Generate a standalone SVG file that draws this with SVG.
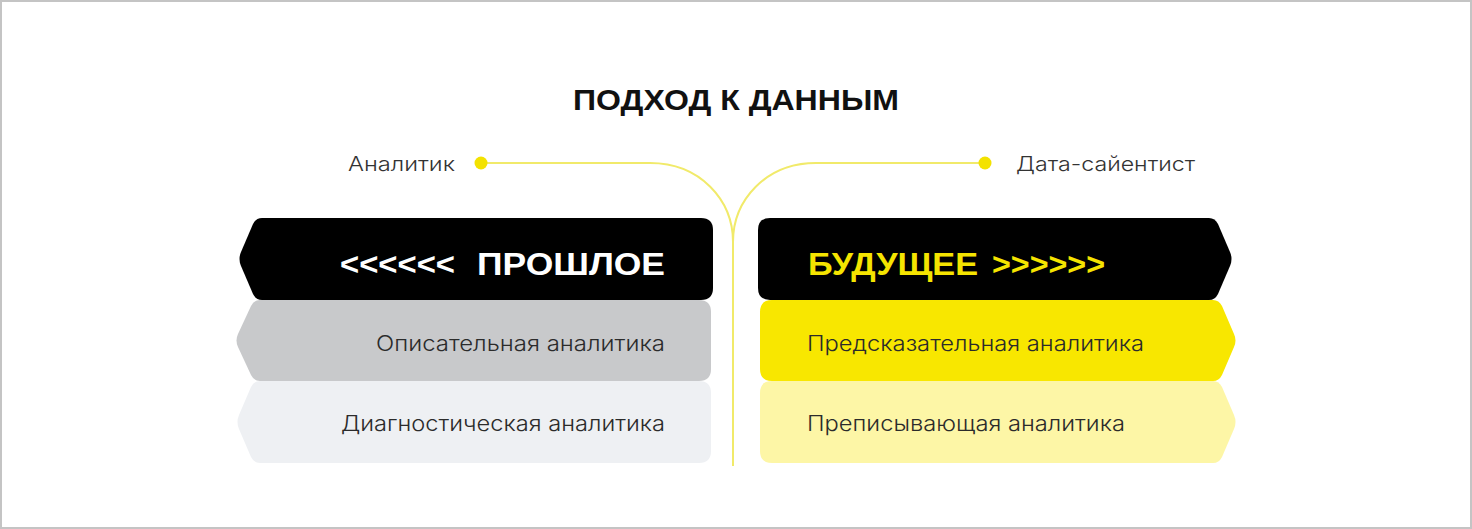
<svg xmlns="http://www.w3.org/2000/svg" width="1472" height="529" viewBox="0 0 1472 529">
<style>
.title{font-family:"Liberation Sans","Noto Sans",sans-serif;font-weight:bold;font-size:30px;fill:#111}
.head{font-family:"Liberation Sans","Noto Sans",sans-serif;font-weight:bold;font-size:32px}
.item{font-family:"Inter","Noto Sans","Liberation Sans",sans-serif;font-weight:300;font-size:21px;fill:#2b2b2b}
.role{font-family:"Inter","Noto Sans","Liberation Sans",sans-serif;font-weight:300;font-size:20px;fill:#333}
.conn{fill:none;stroke:#f1ea6a;stroke-width:2}
.dot{fill:#f3e200}
</style>
<rect x="1" y="1" width="1470" height="527" fill="#fff" stroke="#c4c4c4" stroke-width="2"/>
<text class="title" x="736" y="110" text-anchor="middle" textLength="326" lengthAdjust="spacingAndGlyphs">ПОДХОД К ДАННЫМ</text>
<g id="connectors">
<path class="conn" d="M 481 163 H 650 C 700 163 733 200 733 242 V 466"/>
<path class="conn" d="M 985 163 H 816 C 766 163 733 200 733 242"/>
</g>
<g id="analyst">
<circle class="dot" cx="481" cy="163" r="6.5"/>
<text class="role" x="455" y="171" text-anchor="end" textLength="107" lengthAdjust="spacingAndGlyphs">Аналитик</text>
</g>
<g id="datascientist">
<circle class="dot" cx="985" cy="163" r="6.5"/>
<text class="role" x="1016" y="171" textLength="179" lengthAdjust="spacingAndGlyphs">Дата-сайентист</text>
</g>
<g id="diagnostic">
<path fill="#eef0f3" d="M 260 381 H 699 Q 711 381 711 393 V 451 Q 711 463 699 463 H 260 Q 254 463 251 457 L 239 429 Q 236 422 239 415 L 251 387 Q 254 381 260 381 Z"/>
<text class="item" x="665" y="431" text-anchor="end" textLength="324" lengthAdjust="spacingAndGlyphs">Диагностическая аналитика</text>
</g>
<g id="descriptive">
<path fill="#c8c9cb" d="M 260 300 H 699 Q 711 300 711 312 V 369 Q 711 381 699 381 H 260 Q 254 381 251 375 L 238 347 Q 235 340.5 238 334 L 251 306 Q 254 300 260 300 Z"/>
<text class="item" x="665" y="351" text-anchor="end" textLength="289" lengthAdjust="spacingAndGlyphs">Описательная аналитика</text>
</g>
<g id="past">
<path fill="#000" d="M 262 218 H 701 Q 713 218 713 230 V 288 Q 713 300 701 300 H 262 Q 256 300 253 294 L 241 266 Q 238 259 241 252 L 253 224 Q 256 218 262 218 Z"/>
<text class="head" x="340" y="275" fill="#fff" textLength="115" lengthAdjust="spacingAndGlyphs">&lt;&lt;&lt;&lt;&lt;&lt;</text>
<text class="head" x="477" y="275" fill="#fff" textLength="188" lengthAdjust="spacingAndGlyphs">ПРОШЛОЕ</text>
</g>
<g id="prescriptive">
<path fill="#fdf6a6" d="M 772 381 H 1213 Q 1219 381 1222 387 L 1234 415 Q 1237 422 1234 429 L 1222 457 Q 1219 463 1213 463 H 772 Q 760 463 760 451 V 393 Q 760 381 772 381 Z"/>
<text class="item" x="807" y="431" textLength="318" lengthAdjust="spacingAndGlyphs">Преписывающая аналитика</text>
</g>
<g id="predictive">
<path fill="#f8e700" d="M 772 300 H 1213 Q 1219 300 1222 306 L 1234 334 Q 1237 340.5 1234 347 L 1222 375 Q 1219 381 1213 381 H 772 Q 760 381 760 369 V 312 Q 760 300 772 300 Z"/>
<text class="item" x="807" y="351" textLength="337" lengthAdjust="spacingAndGlyphs">Предсказательная аналитика</text>
</g>
<g id="future">
<path fill="#000" d="M 770 218 H 1209 Q 1215 218 1218 224 L 1230 252 Q 1233 259 1230 266 L 1218 294 Q 1215 300 1209 300 H 770 Q 758 300 758 288 V 230 Q 758 218 770 218 Z"/>
<text class="head" x="808" y="275" fill="#f5e400" textLength="170" lengthAdjust="spacingAndGlyphs">БУДУЩЕЕ</text>
<text class="head" x="992" y="275" fill="#f5e400" textLength="113" lengthAdjust="spacingAndGlyphs">&gt;&gt;&gt;&gt;&gt;&gt;</text>
</g>
</svg>
